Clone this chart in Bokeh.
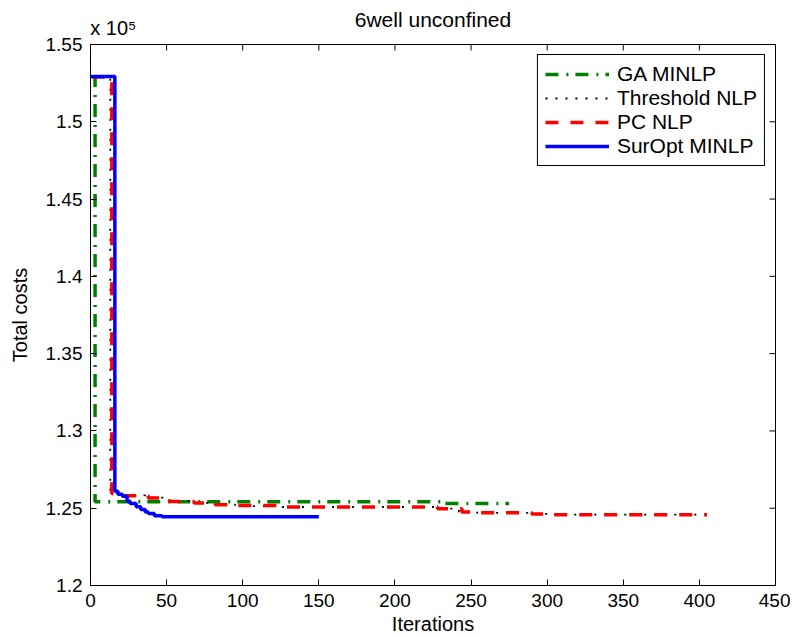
import math
from bokeh.plotting import figure
from bokeh.models import Range1d, FixedTicker, LinearAxis, CustomJSTickFormatter
from bokeh.embed import file_html
from bokeh.resources import INLINE

# ---- data (costs in units of 1e5) ----
ga_iter = [1, 3, 232, 275]
ga_cost = [1.5290, 1.2542, 1.2530, 1.2530]

thr_iter = [1, 13, 20, 36, 50, 66, 80, 95, 126, 226, 242, 254, 288, 302, 405]
thr_cost = [1.5290, 1.2600, 1.2583, 1.2568, 1.2546, 1.2535, 1.2524, 1.2514, 1.2508,
            1.2497, 1.2477, 1.2470, 1.2464, 1.2458, 1.2458]

pc_iter = [1, 14, 22, 38, 52, 68, 82, 97, 128, 228, 244, 256, 290, 303, 405]
pc_cost = [1.5290, 1.2595, 1.2581, 1.2566, 1.2544, 1.2534, 1.2523, 1.2517, 1.2508,
           1.2496, 1.2476, 1.2470, 1.2463, 1.2458, 1.2458]

su_iter = [0, 16, 18, 21, 24, 26, 30, 33, 36, 38, 42, 47, 150]
su_cost = [1.5293, 1.2609, 1.2590, 1.2577, 1.2545, 1.2530, 1.2510, 1.2491, 1.2475,
           1.2465, 1.2452, 1.2444, 1.2444]

x_ticks = [0, 50, 100, 150, 200, 250, 300, 350, 400, 450]
y_ticks = [1.2, 1.25, 1.3, 1.35, 1.4, 1.45, 1.5, 1.55]

TITLE = "6well unconfined"
MULTIPLIER = "x 10\u2075"
MULT_POS = 15  # iteration under which the multiplier text is centred

FONT = "Liberation Sans"
W, H = 790, 637
ML, MR, MT, MB = 90, 15, 44, 51
FH = H - MT - MB  # frame height in px

p = figure(width=W, height=H, output_backend="svg", toolbar_location=None,
           x_range=Range1d(0, 450), y_range=Range1d(1.2, 1.55),
           min_border_left=ML, min_border_right=MR, min_border_top=MT,
           min_border_bottom=MB)
p.xgrid.visible = False
p.ygrid.visible = False
p.outline_line_color = "black"
p.outline_line_alpha = 1
p.outline_line_width = 1
p.background_fill_color = "white"
p.border_fill_color = "white"

fmt = CustomJSTickFormatter(code="return String(Math.round(tick*100)/100);")

for ax, ticks in ((p.xaxis[0], x_ticks), (p.yaxis[0], y_ticks)):
    ax.ticker = FixedTicker(ticks=ticks, minor_ticks=[])
    ax.major_tick_in = 6
    ax.major_tick_out = 0
    ax.minor_tick_line_color = None
    ax.axis_line_color = "black"
    ax.major_tick_line_color = "black"
    ax.formatter = fmt
    ax.major_label_text_font = FONT
    ax.major_label_text_font_size = "19px"
    ax.major_label_text_color = "black"
    ax.axis_label_text_font = FONT
    ax.axis_label_text_font_size = "20px"
    ax.axis_label_text_font_style = "normal"
    ax.axis_label_text_color = "black"

p.xaxis[0].axis_label = "Iterations"
p.xaxis[0].major_label_standoff = 8
p.xaxis[0].axis_label_standoff = 3
p.yaxis[0].axis_label = "Total costs"
p.yaxis[0].major_label_standoff = 8
p.yaxis[0].axis_label_standoff = 12

# top axis carrying the multiplier (as its tick label) and the title (as its label)
top = LinearAxis(ticker=FixedTicker(ticks=[MULT_POS], minor_ticks=[]),
                 major_label_overrides={MULT_POS: MULTIPLIER},
                 axis_label=TITLE)
top.axis_line_color = None
top.major_tick_line_color = None
top.minor_tick_line_color = None
top.major_tick_in = 0
top.major_tick_out = 0
top.major_label_standoff = 6
top.major_label_text_font = FONT
top.major_label_text_font_size = "20px"
top.major_label_text_color = "black"
top.axis_label_standoff = -17
top.axis_label_text_font = FONT
top.axis_label_text_font_size = "21px"
top.axis_label_text_font_style = "normal"
top.axis_label_text_color = "black"
p.add_layout(top, "above")

# inward tick marks on the top and right edges (box on)
ppy = FH / 0.35
ppx = (W - ML - MR) / 450
p.segment(x0=x_ticks, y0=[1.55] * len(x_ticks), x1=x_ticks,
          y1=[1.55 - 6 / ppy] * len(x_ticks), line_color="black", line_width=1)
p.segment(x0=[450] * len(y_ticks), y0=y_ticks, x1=[450 - 6 / ppx] * len(y_ticks),
          y1=y_ticks, line_color="black", line_width=1)

p.step(ga_iter, ga_cost, mode="after", line_color="#008000", line_width=3.5,
       line_dash="13 8 2 7", legend_label="GA MINLP")
p.step(thr_iter, thr_cost, mode="after", line_color="black", line_width=1.8,
       line_dash="2 8", legend_label="Threshold NLP")
p.step(pc_iter, pc_cost, mode="after", line_color="#FF0000", line_width=3.5,
       line_dash="13 12", legend_label="PC NLP")
p.step(su_iter, su_cost, mode="after", line_color="#0000FF", line_width=3.5,
       legend_label="SurOpt MINLP")

lg = p.legend[0]
lg.location = "top_right"
lg.margin = 10
lg.padding = 7
lg.spacing = 0
lg.glyph_width = 64
lg.glyph_height = 18
lg.label_height = 18
lg.label_standoff = 8
lg.label_text_font = FONT
lg.label_text_font_size = "21px"
lg.label_text_color = "black"
lg.border_line_color = "black"
lg.border_line_alpha = 1
lg.border_line_width = 1
lg.background_fill_alpha = 1

open("out.html", "w").write(file_html(p, INLINE))
